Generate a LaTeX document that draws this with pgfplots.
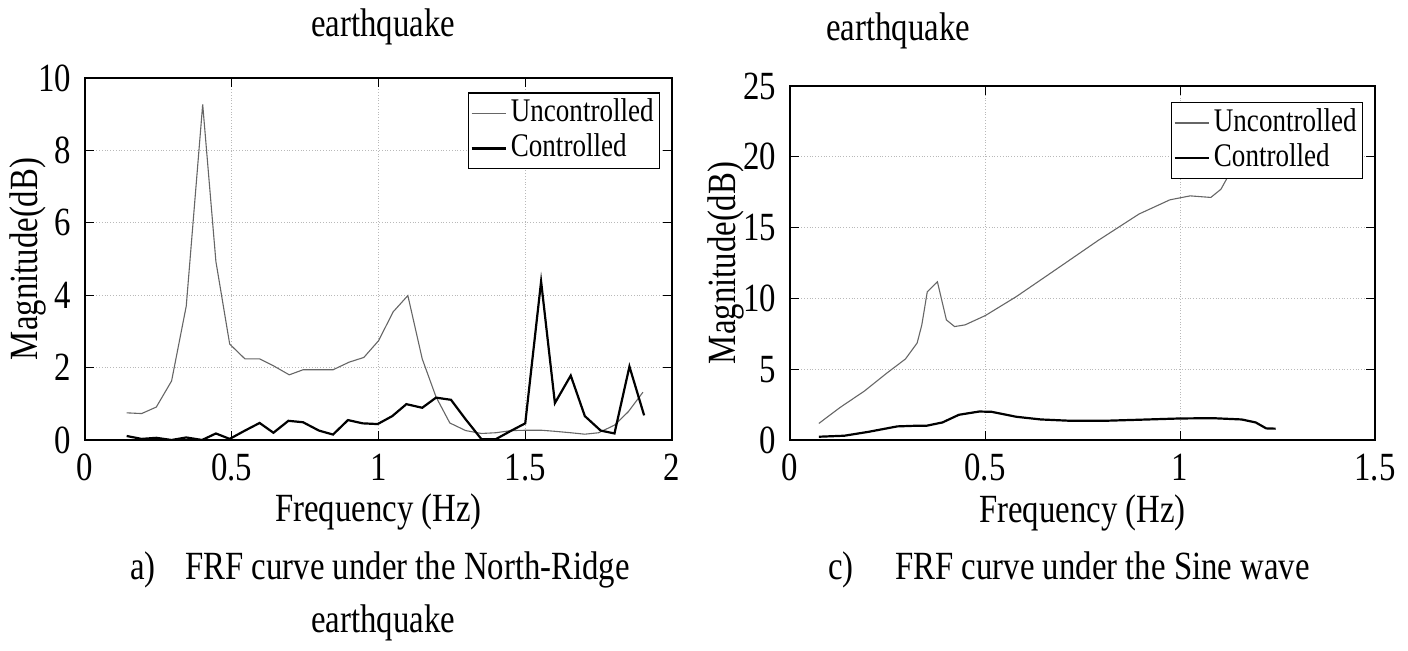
\documentclass[border=0pt]{standalone}
\usepackage{fontspec}
\setmainfont[FakeStretch=0.82]{Liberation Serif}
\usepackage{pgfplots}
\pgfplotsset{compat=1.18}

\pgfplotstableread{
x y
0.142 0.75
0.193 0.73
0.243 0.91
0.295 1.63
0.345 3.70
0.401 9.27
0.446 4.93
0.493 2.65
0.545 2.24
0.595 2.24
0.642 2.05
0.696 1.80
0.743 1.94
0.790 1.94
0.845 1.94
0.900 2.15
0.950 2.28
1.000 2.74
1.050 3.54
1.100 3.99
1.149 2.24
1.196 1.19
1.243 0.47
1.297 0.26
1.351 0.18
1.399 0.20
1.453 0.26
1.507 0.27
1.554 0.27
1.601 0.24
1.655 0.20
1.703 0.16
1.750 0.20
1.804 0.41
1.851 0.78
1.901 1.32
}\NRunc

\pgfplotstableread{
x y
0.142 0.11
0.193 0.03
0.243 0.06
0.295 0.00
0.345 0.07
0.399 0.00
0.446 0.18
0.493 0.03
0.545 0.26
0.595 0.47
0.642 0.20
0.693 0.53
0.743 0.49
0.797 0.26
0.845 0.15
0.896 0.55
0.946 0.46
0.997 0.44
1.047 0.66
1.095 0.99
1.149 0.89
1.196 1.17
1.247 1.11
1.297 0.57
1.351 0.02
1.399 0.02
1.453 0.26
1.500 0.46
1.554 4.38
1.601 1.02
1.655 1.78
1.703 0.66
1.757 0.26
1.804 0.18
1.855 2.03
1.905 0.68
}\NRcon

\pgfplotstableread{
x y
0.074 1.17
0.128 2.29
0.191 3.46
0.249 4.74
0.296 5.72
0.326 6.85
0.338 8.13
0.352 10.47
0.378 11.17
0.401 8.48
0.422 8.01
0.449 8.13
0.501 8.79
0.580 10.12
0.685 12.10
0.790 14.09
0.895 15.96
0.974 16.96
1.026 17.24
1.079 17.13
1.105 17.71
1.126 18.76
1.160 20.00
1.200 21.00
}\SWunc

\pgfplotstableread{
x y
0.074 0.23
0.139 0.30
0.202 0.58
0.275 0.96
0.317 1.00
0.349 1.00
0.391 1.24
0.433 1.78
0.485 2.01
0.517 1.99
0.580 1.64
0.643 1.45
0.716 1.36
0.811 1.36
0.895 1.43
1.000 1.52
1.084 1.54
1.158 1.45
1.194 1.24
1.221 0.82
1.245 0.80
}\SWcon

\begin{document}
\fontsize{20}{24}\selectfont
\begin{tikzpicture}
\useasboundingbox (0pt,0pt) rectangle (704pt,325.5pt);
\pgfplotsset{
  every axis/.append style={
    scale only axis,
    /pgf/number format/assume math mode=true,
    grid=major,
    major grid style={densely dotted, gray!55, line width=0.5pt},
    tick style={black, line width=0.5pt},
    axis line style={line width=0.6pt},
    tick label style={font=\fontsize{20}{24}\selectfont},
    label style={font=\fontsize{20}{24}\selectfont},
    legend style={font=\fontsize{16.5}{16.5}\selectfont, draw=black, fill=white,
      line width=0.6pt, inner sep=1pt, row sep=-1pt},
    legend cell align=left,
  }
}
\begin{axis}[
  at={(42.5pt,105.5pt)}, anchor=south west,
  width=293.5pt, height=181pt,
  xmin=0, xmax=2, ymin=0, ymax=10,
  xtick={0,0.5,1,1.5,2}, ytick={0,2,4,6,8,10},
  xlabel={Frequency (Hz)}, ylabel={Magnitude(dB)},
  xlabel style={at={(axis description cs:0.5,-0.2)}, anchor=center},
  ylabel style={at={(axis description cs:-0.097,0.5)}, anchor=center},
  legend style={at={(0.98,0.96)}, anchor=north east},
]
\addplot[black!60, line width=0.55pt] table[x=x,y=y] {\NRunc};
\addlegendentry{Uncontrolled}
\addplot[black, line width=1.1pt] table[x=x,y=y] {\NRcon};
\addlegendentry{Controlled}
\end{axis}

\begin{axis}[
  at={(395pt,105.5pt)}, anchor=south west,
  width=292.5pt, height=177pt,
  xmin=0, xmax=1.5, ymin=0, ymax=25,
  xtick={0,0.5,1,1.5}, ytick={0,5,10,15,20,25},
  xlabel={Frequency (Hz)}, ylabel={Magnitude(dB)},
  xlabel style={at={(axis description cs:0.5,-0.205)}, anchor=center},
  ylabel style={at={(axis description cs:-0.11,0.5)}, anchor=center},
  legend style={at={(0.98,0.955)}, anchor=north east},
]
\addplot[black!60, line width=0.55pt] table[x=x,y=y] {\SWunc};
\addlegendentry{Uncontrolled}
\addplot[black, line width=1.1pt] table[x=x,y=y] {\SWcon};
\addlegendentry{Controlled}
\end{axis}

\node[anchor=base] at (191.5pt,307pt) {earthquake};
\node[anchor=base] at (449pt,305pt) {earthquake};
\node[anchor=base west, inner sep=0pt] at (65pt,35.5pt) {a)};
\node[anchor=base west, inner sep=0pt] at (92.5pt,35.5pt) {FRF curve under the North-Ridge};
\node[anchor=base] at (191.5pt,9pt) {earthquake};
\node[anchor=base west, inner sep=0pt] at (414pt,35.5pt) {c)};
\node[anchor=base west, inner sep=0pt] at (447.5pt,35.5pt) {FRF curve under the Sine wave};
\end{tikzpicture}
\end{document}
